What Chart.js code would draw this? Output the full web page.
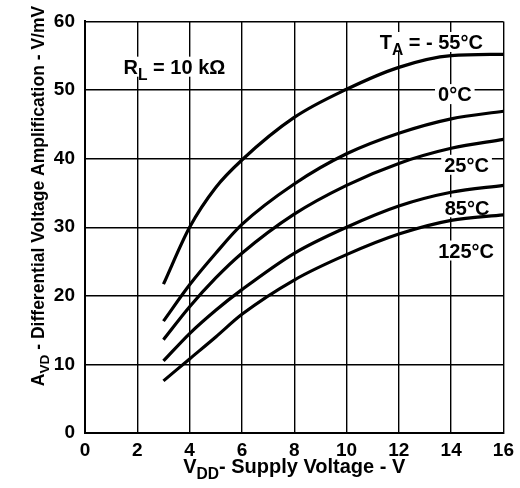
<!DOCTYPE html>
<html>
<head>
<meta charset="utf-8">
<script src="https://cdn.jsdelivr.net/npm/chart.js@4.4.1/dist/chart.umd.min.js"></script>
<style>
  body { margin: 0; background: #fff; }
  #wrap { width: 520px; height: 488px; }
</style>
</head>
<body>
<div id="wrap"><canvas id="avdChart" width="520" height="488"></canvas></div>
<script>
// supply voltage (V) and differential voltage amplification (V/mV) per temperature
const vdd = [3, 4, 5, 6, 8, 10, 12, 14, 16]
const avdMinus55 = [21.7, 30, 35.8, 39.8, 46, 50.1, 53.3, 55, 55.2]
const avd0 = [16.3, 21.6, 26.2, 30.4, 36.3, 40.7, 43.7, 45.8, 46.9]
const avd25 = [13.6, 18.4, 22.6, 26.2, 31.9, 36.1, 39.3, 41.5, 42.8]
const avd85 = [10.5, 14.5, 17.9, 20.9, 26.2, 30.0, 33.1, 35.1, 36.1]
const avd125 = [7.6, 10.8, 14.0, 17.3, 22.3, 26.0, 29.0, 31.0, 31.8]

const xTicks = [0, 2, 4, 6, 8, 10, 12, 14, 16]
const yTicks = [0, 10, 20, 30, 40, 50, 60]

// curve labels: text parts ([text, isSubscript]) and where they sit in data units
const labelParts = [
  [['T'], ['A', true], [' = - 55°C']],
  [['0°C']],
  [['25°C']],
  [['85°C']],
  [['125°C']],
  [['R'], ['L', true], [' = 10 kΩ']],
]
const labelX = [13.24, 14.14, 14.59, 14.61, 14.57, 3.42]
const labelY = [57.0, 49.4, 39.1, 32.9, 26.6, 53.4]

const FONT = "'Liberation Sans', Arial, sans-serif"

const toPoints = (ys) => vdd.map((v, i) => ({ x: v, y: ys[i] }))

function drawRich(ctx, parts, x, y, size, align) {
  let total = 0
  const widths = parts.map(([t, sub]) => {
    ctx.font = `bold ${sub ? size * 0.78 : size}px ${FONT}`
    const w = ctx.measureText(t).width
    total += w
    return w
  })
  let cx = align === 'center' ? x - total / 2 : x
  ctx.textBaseline = 'alphabetic'
  ctx.textAlign = 'left'
  parts.forEach(([t, sub], i) => {
    ctx.font = `bold ${sub ? size * 0.78 : size}px ${FONT}`
    ctx.fillText(t, cx, sub ? y + size * 0.3 : y)
    cx += widths[i]
  })
  return total
}

function measureRich(ctx, parts, size) {
  let total = 0
  parts.forEach(([t, sub]) => {
    ctx.font = `bold ${sub ? size * 0.78 : size}px ${FONT}`
    total += ctx.measureText(t).width
  })
  return total
}

const labelPlugin = {
  id: 'curveLabels',
  beforeDatasetsDraw(chart) {
    const { ctx, scales } = chart
    ctx.save()
    labelParts.forEach((parts, i) => {
      const px = scales.x.getPixelForValue(labelX[i])
      const py = scales.y.getPixelForValue(labelY[i])
      const size = 20
      const w = measureRich(ctx, parts, size)
      ctx.fillStyle = '#fff'
      ctx.fillRect(px - w / 2 - 3, py - size * 0.5, w + 6, size)
      ctx.fillStyle = '#000'
      drawRich(ctx, parts, px, py + size * 0.36, size, 'center')
    })
    ctx.restore()
  },
  afterDraw(chart) {
    const { ctx, chartArea } = chart
    ctx.save()
    ctx.fillStyle = '#000'
    // x axis title
    drawRich(ctx, [['V'], ['DD', true], ['- Supply Voltage - V']],
      (chartArea.left + chartArea.right) / 2, 473, 20, 'center')
    // y axis title
    ctx.translate(44, 196)
    ctx.rotate(-Math.PI / 2)
    drawRich(ctx, [['A'], ['VD', true], [' - Differential Voltage Amplification - V/mV']],
      0, 0, 17.5, 'center')
    ctx.restore()
  },
}

const lineStyle = {
  showLine: true,
  borderColor: '#000',
  borderWidth: 3.2,
  pointRadius: 0,
  cubicInterpolationMode: 'monotone',
  fill: false,
}

new Chart(document.getElementById('avdChart'), {
  type: 'scatter',
  data: {
    datasets: [
      { label: '-55°C', data: toPoints(avdMinus55), ...lineStyle },
      { label: '0°C', data: toPoints(avd0), ...lineStyle },
      { label: '25°C', data: toPoints(avd25), ...lineStyle },
      { label: '85°C', data: toPoints(avd85), ...lineStyle },
      { label: '125°C', data: toPoints(avd125), ...lineStyle },
    ],
  },
  options: {
    responsive: false,
    animation: false,
    devicePixelRatio: 1,
    layout: { padding: { top: 14, right: 14.5, left: 0, bottom: 0 } },
    plugins: { legend: { display: false }, tooltip: { enabled: false } },
    scales: {
      x: {
        type: 'linear',
        min: 0,
        max: 16,
        afterBuildTicks: (scale) => {
          scale.ticks = xTicks.map((v) => ({ value: v }))
        },
        afterFit: (scale) => {
          scale.height = 55
        },
        grid: { color: '#000', lineWidth: 1.4, drawTicks: false },
        border: { color: '#000', width: 2 },
        ticks: {
          color: '#000',
          padding: 6,
          font: { family: FONT, size: 19, weight: 'bold' },
        },
      },
      y: {
        type: 'linear',
        min: 0,
        max: 60,
        afterBuildTicks: (scale) => {
          scale.ticks = yTicks.map((v) => ({ value: v }))
        },
        afterFit: (scale) => {
          scale.width = 85
        },
        grid: { color: '#000', lineWidth: 1.4, drawTicks: false },
        border: { color: '#000', width: 2 },
        ticks: {
          color: '#000',
          padding: 10,
          font: { family: FONT, size: 19, weight: 'bold' },
        },
      },
    },
  },
  plugins: [labelPlugin],
})
</script>
</body>
</html>
